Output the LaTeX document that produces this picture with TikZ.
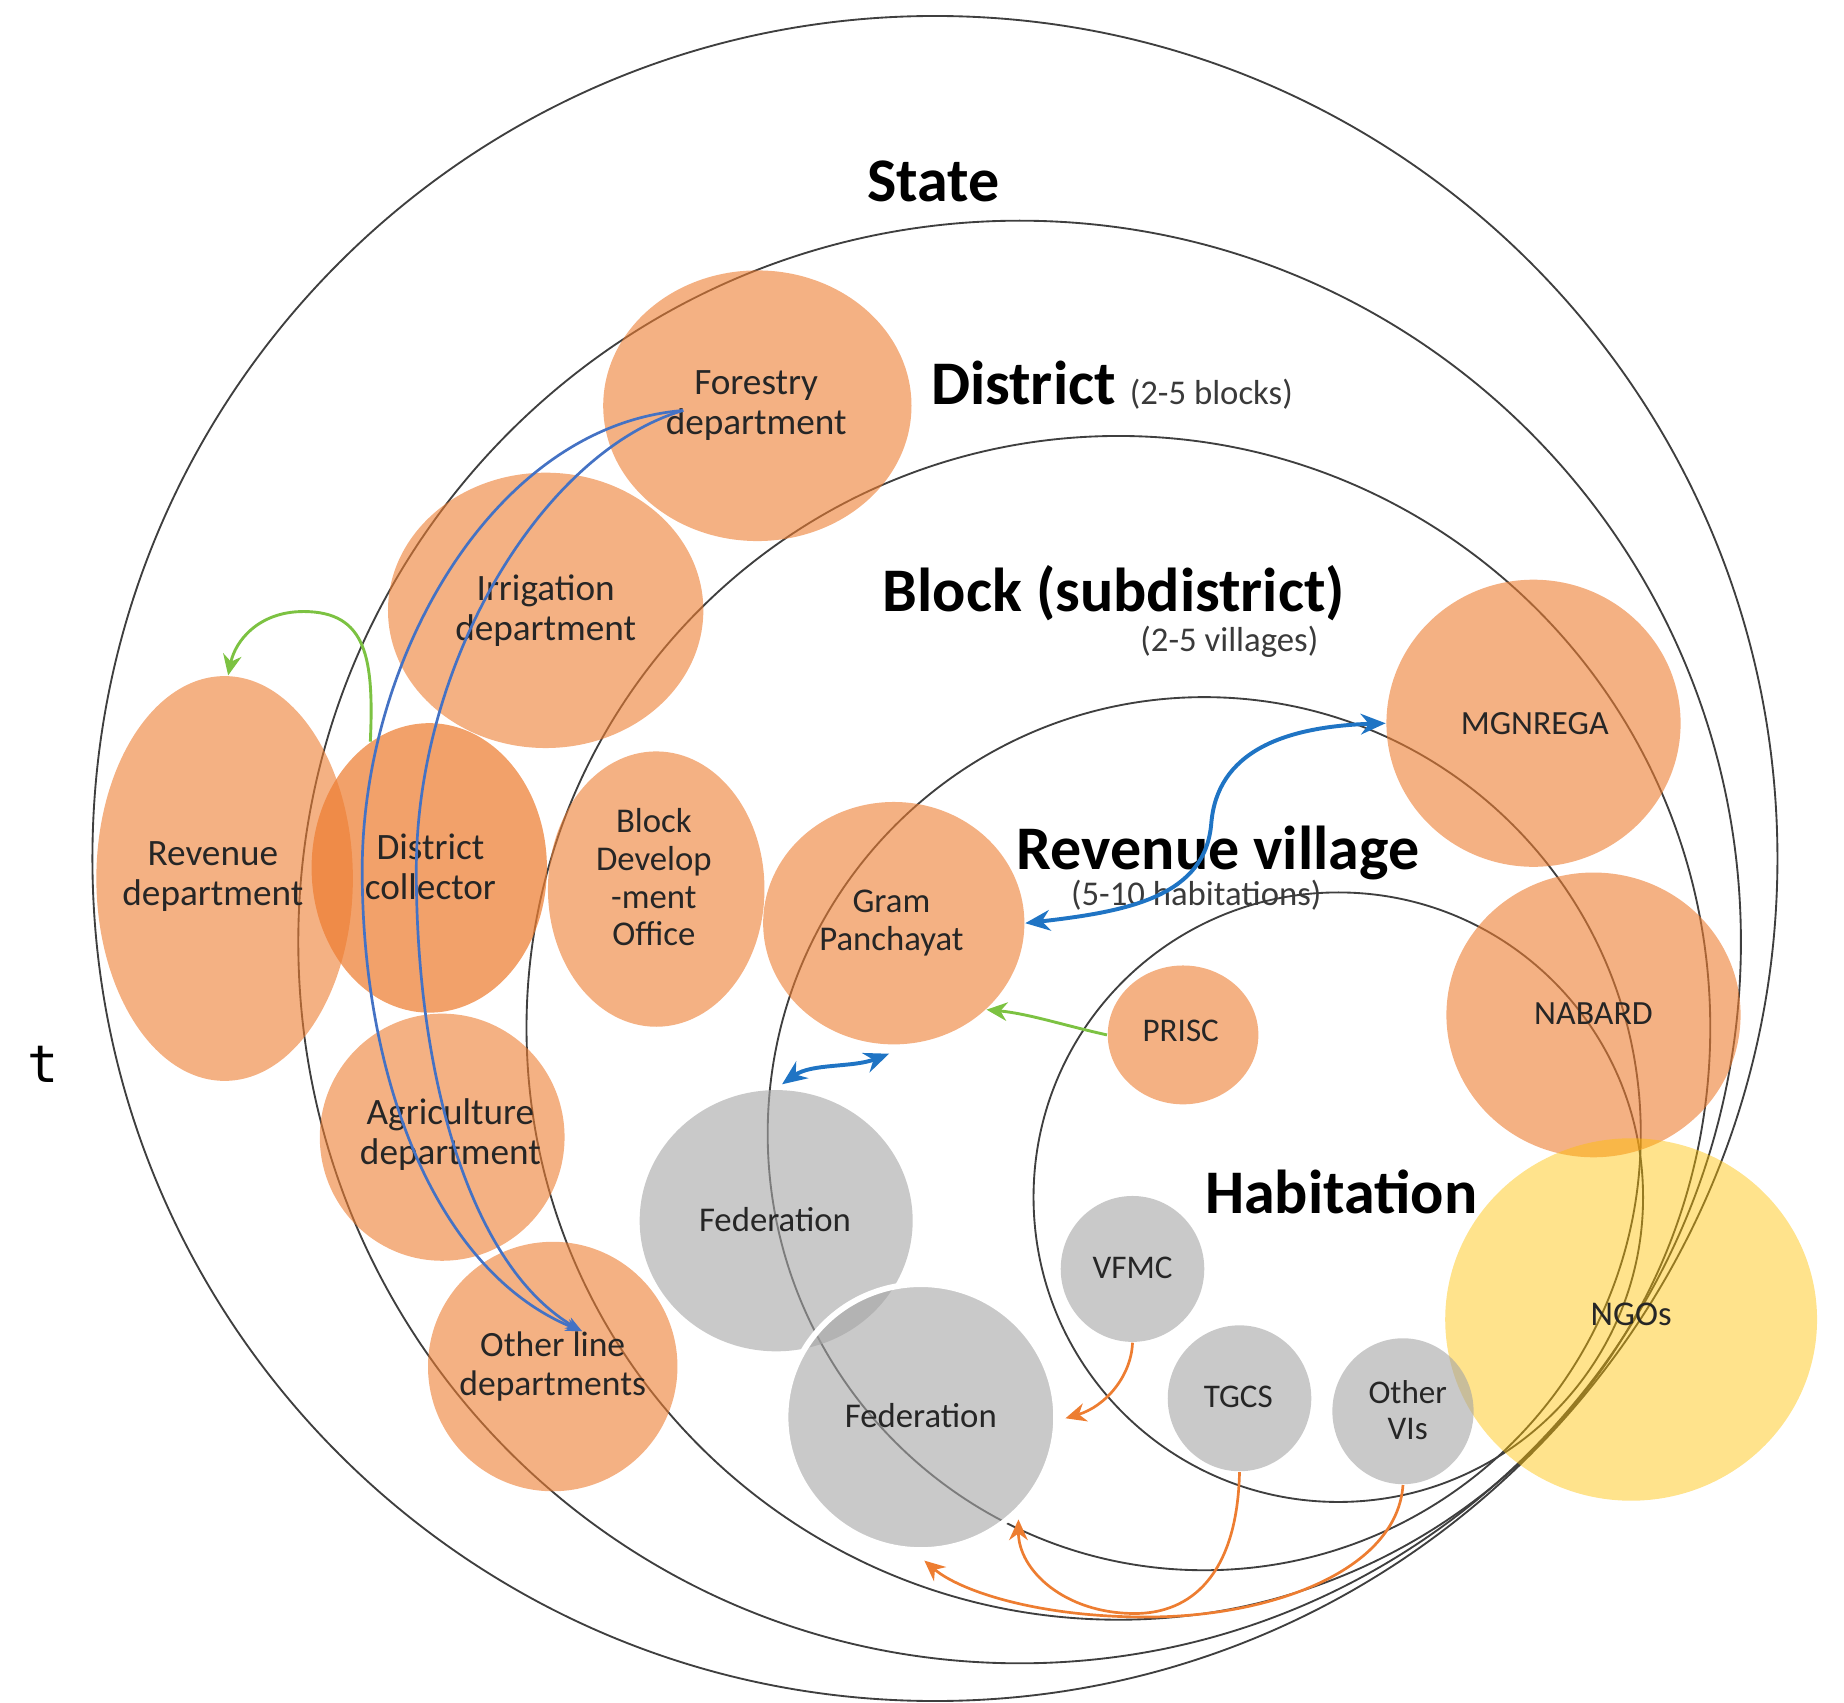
\documentclass[tikz,border=0pt]{standalone}
\usepackage{fontspec}
\setmainfont{Carlito}
\newfontfamily\monofont{DejaVu Sans Mono}
\usetikzlibrary{shapes.geometric,arrows.meta,calc}
\definecolor{ringc}{HTML}{3F3F3F}
\definecolor{orng}{HTML}{ED7D31}
\definecolor{gry}{HTML}{A5A5A5}
\definecolor{gold}{HTML}{FFC000}
\definecolor{bluea}{HTML}{4472C4}
\definecolor{blueb}{HTML}{1F74C4}
\definecolor{grn}{HTML}{7CC242}
\definecolor{arrorange}{HTML}{ED7D31}
\definecolor{txt}{HTML}{262626}
\definecolor{subtxt}{HTML}{3A3A3A}
\tikzset{
  ringnode/.style={circle, draw=ringc, line width=0.45pt, inner sep=0pt},
  blob/.style={ellipse, inner sep=0pt},
  oblob/.style={blob, fill=orng, fill opacity=0.6},
  gblob/.style={blob, fill=gry, fill opacity=0.6},
  depttext/.style={align=center, text=txt, inner sep=0pt, font=\fontsize{9}{9.7}\selectfont},
  midtext/.style={align=center, text=txt, inner sep=0pt, font=\fontsize{8.4}{9.2}\selectfont},
  smalltext/.style={align=center, text=txt, inner sep=0pt, font=\fontsize{8}{8.6}\selectfont},
  head/.style={anchor=base west, inner sep=0pt, text=black, font=\fontsize{15}{18}\selectfont\bfseries},
  subhead/.style={anchor=base west, inner sep=0pt, text=subtxt, font=\fontsize{8.4}{10}\selectfont},
  bluethin/.style={draw=bluea, line width=0.65pt},
  bluethick/.style={draw=blueb, line width=0.95pt},
  greenarr/.style={draw=grn, line width=0.7pt, -{Stealth[length=5pt,width=4.5pt]}},
  orangearr/.style={draw=arrorange, line width=0.65pt, -{Stealth[length=5pt,width=4.5pt]}}
}
\begin{document}
\begin{tikzpicture}[x=0.01cm, y=-0.01cm]
\useasboundingbox (0,0) rectangle (1568,1448);

% nested level rings
\node[ringnode, minimum size=14.32cm] (state) at (795,730) {};
\node[ringnode, minimum size=12.26cm] (district) at (867,801) {};
\node[ringnode, minimum size=10.06cm] (block) at (951,874) {};
\node[ringnode, minimum size=7.42cm] (village) at (1024,964) {};
\node[ringnode, minimum size=5.18cm] (habitation) at (1138,1018) {};

% orange actors
\node[oblob, minimum width=2.62cm, minimum height=2.30cm] (forestry) at (644,345) {};
\node[oblob, minimum width=2.68cm, minimum height=2.34cm] (irrigation) at (464,519) {};
\node[oblob, minimum width=2.18cm, minimum height=3.44cm] (revenue) at (191,747) {};
\node[oblob, fill opacity=0.72, minimum width=2.00cm, minimum height=2.46cm] (collector) at (365,738) {};
\node[oblob, minimum width=1.84cm, minimum height=2.34cm] (bdo) at (558,756) {};
\node[oblob, minimum width=2.22cm, minimum height=2.06cm] (gp) at (760,785) {};
\node[oblob, minimum width=2.08cm, minimum height=2.10cm] (agri) at (376,967) {};
\node[oblob, minimum width=2.12cm, minimum height=2.12cm] (otherline) at (470,1162) {};
\node[oblob, minimum width=1.28cm, minimum height=1.18cm] (prisc) at (1006,880) {};
\node[oblob, minimum width=2.50cm, minimum height=2.44cm] (mgnrega) at (1304,615) {};
\node[oblob, minimum width=2.50cm, minimum height=2.42cm] (nabard) at (1355,863) {};
\node[blob, fill=gold, fill opacity=0.45, minimum width=3.16cm, minimum height=3.08cm] (ngos) at (1387,1122) {};

% grey actors
\node[gblob, minimum width=2.32cm, minimum height=2.22cm] (fed1) at (660,1038) {};
\node[gblob, draw=white, line width=1.4pt, minimum width=2.30cm, minimum height=2.26cm] (fed2) at (783,1205) {};
\node[gblob, minimum width=1.22cm, minimum height=1.24cm] (vfmc) at (963,1079) {};
\node[gblob, minimum width=1.22cm, minimum height=1.24cm] (tgcs) at (1054,1189) {};
\node[gblob, minimum width=1.20cm, minimum height=1.24cm] (othervis) at (1193,1200) {};

% texts of actors
\node[depttext] (forestryT) at (643,345) {Forestry\\department};
\node[depttext] (irrigationT) at (464,519) {Irrigation\\department};
\node[depttext] (revenueT) at (181,745) {Revenue\\department};
\node[depttext] (collectorT) at (366,737) {District\\collector};
\node[midtext, font=\fontsize{8.4}{9.1}\selectfont] (bdoT) at (556,746) {Block\\Develop\\-ment\\Office};
\node[midtext] (gpT) at (758,785) {Gram\\Panchayat};
\node[depttext] (agriT) at (383,965) {Agriculture\\department};
\node[depttext, font=\fontsize{8.6}{9.5}\selectfont] (otherlineT) at (470,1162) {Other line\\departments};
\node[smalltext] (priscT) at (1004,877) {PRISC};
\node[smalltext, font=\fontsize{8.2}{9}\selectfont] (mgnregaT) at (1305,615) {MGNREGA};
\node[smalltext, font=\fontsize{8.2}{9}\selectfont] (nabardT) at (1355,862) {NABARD};
\node[smalltext, font=\fontsize{8.4}{9}\selectfont] (ngosT) at (1387,1118) {NGOs};
\node[midtext] (fed1T) at (659,1037) {Federation};
\node[midtext] (fed2T) at (783,1204) {Federation};
\node[smalltext] (vfmcT) at (963,1078) {VFMC};
\node[smalltext] (tgcsT) at (1053,1188) {TGCS};
\node[smalltext] (othervisT) at (1197,1199) {Other\\VIs};

% level headings
\node[head] (stateL) at (737,171) {State};
\node[head] (districtL) at (791,344) {District};
\node[subhead] (districtS) at (960,344) {(2-5 blocks)};
\node[head] (blockL) at (750,520) {Block (subdistrict)};
\node[subhead] (blockS) at (969,554) {(2-5 villages)};
\node[head] (villageL) at (864,739) {Revenue village};
\node[subhead] (villageS) at (910,770) {(5-10 habitations)};
\node[head] (habitationL) at (1024,1032) {Habitation};

% stray character
\node[inner sep=0pt, font=\monofont\fontsize{12.5}{14}\selectfont] (tchar) at (37,905) {t};

% connector end points
\coordinate (fs) at ($(forestry.center)+(-63,4)$);
\coordinate (oe) at ($(otherline.center)+(25,-30)$);
\coordinate (fedA) at ($(fed1.center)+(5,-116)$);
\coordinate (gpB) at ($(gp.center)+(-4,111)$);
\coordinate (fed2a) at ($(fed2.center)+(123,1)$);
\coordinate (fed2b) at ($(fed2.center)+(83,87)$);
\coordinate (fed2c) at ($(fed2.center)+(3,122)$);

% blue links forestry -> other line departments
\draw[bluethin, -{Stealth[length=4pt,width=3pt]}] (fs) .. controls (420,362) and (308,560) .. (308,740) .. controls (308,920) and (372,1082) .. (oe);
\draw[bluethin, -{Stealth[length=4pt,width=3pt]}] (fs) .. controls (462,384) and (354,562) .. (354,740) .. controls (354,920) and (402,1078) .. (oe);

% green links
\draw[greenarr] (collector.115) .. controls (318,560) and (312,520) .. (258,520) .. controls (220,520) and (200,545) .. (revenue.89);
\draw[greenarr] (prisc.west) .. controls (905,872) and (875,862) .. (gp.-43);

% blue double links
\draw[bluethick, {Stealth[length=6pt,width=5pt]}-{Stealth[length=6pt,width=5pt]}] (gp.east) .. controls (960,775) and (1025,762) .. (1030,700) .. controls (1035,640) and (1090,618) .. (mgnrega.west);
\draw[bluethick, {Stealth[length=6pt,width=5pt]}-{Stealth[length=6pt,width=5pt]}] (fedA) .. controls (690,904) and (725,908) .. (gpB);

% orange links into federation
\draw[orangearr] (vfmc.south) .. controls (962,1170) and (940,1196) .. (fed2a);
\draw[orangearr] (tgcs.south) .. controls (1052,1340) and (1012,1372) .. (965,1372) .. controls (905,1372) and (866,1335) .. (fed2b);
\draw[orangearr] (othervis.south) .. controls (1188,1335) and (1082,1375) .. (975,1375) .. controls (880,1375) and (815,1352) .. (fed2c);
\end{tikzpicture}
\end{document}
